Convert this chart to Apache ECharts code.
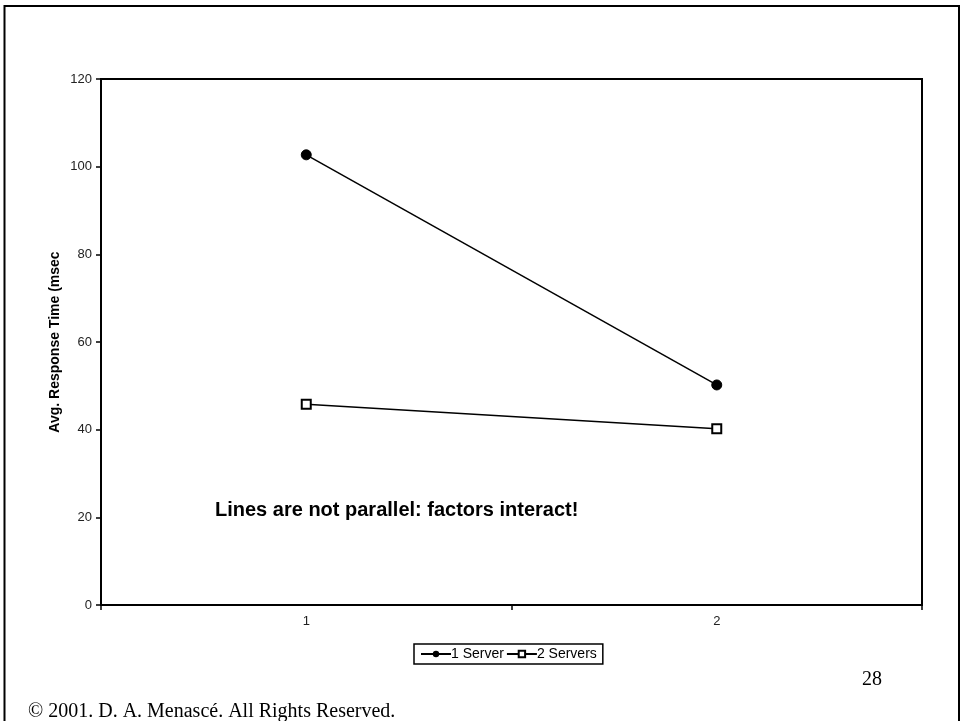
<!DOCTYPE html>
<html><head><meta charset="utf-8">
<script src="https://cdn.jsdelivr.net/npm/echarts@6/dist/echarts.min.js"></script>
<style>html,body{margin:0;padding:0;background:#fff}#c{width:963px;height:721px}</style>
</head><body><div id="c"></div>
<script>
const categories = ['1', '2'];
const oneServer = [102.7, 50.2];
const twoServers = [45.8, 40.2];
const yTicks = [0, 20, 40, 60, 80, 100, 120];

const chart = echarts.init(document.getElementById('c'), null, {renderer: 'canvas'});
chart.setOption({
  animation: false,
  backgroundColor: '#fff',
  grid: {left: 101, top: 79, width: 821, height: 526, show: true, borderColor: '#000', borderWidth: 2, backgroundColor: 'transparent'},
  xAxis: {
    type: 'category', data: categories, boundaryGap: true,
    axisLine: {lineStyle: {color: '#000', width: 2}},
    axisTick: {show: true, length: 5, lineStyle: {color: '#000', width: 1.5}},
    axisLabel: {color: '#222', fontFamily: 'Liberation Sans', fontSize: 13, margin: 10}
  },
  yAxis: {
    type: 'value', min: yTicks[0], max: yTicks[yTicks.length - 1], interval: 20,
    name: 'Avg. Response Time (msec', nameLocation: 'middle', nameGap: 39, nameMoveOverlap: false,
    nameTextStyle: {color: '#000', fontFamily: 'Liberation Sans', fontSize: 14, fontWeight: 'bold'},
    axisLine: {show: true, lineStyle: {color: '#000', width: 2}},
    axisTick: {show: true, length: 5, lineStyle: {color: '#000', width: 1.5}},
    axisLabel: {color: '#222', fontFamily: 'Liberation Sans', fontSize: 13, margin: 9},
    splitLine: {show: false}
  },
  legend: {
    left: 414, top: 644, itemGap: 2, itemWidth: 30, itemHeight: 8,
    borderColor: '#000', borderWidth: 1.5, padding: [3, 6, 3, 6],
    textStyle: {color: '#000', fontFamily: 'Liberation Sans', fontSize: 14, padding: [0, 0, 0, -5]},
    data: ['1 Server', '2 Servers']
  },
  series: [
    {name: '1 Server', type: 'line', data: oneServer, symbol: 'circle', symbolSize: 10,
     lineStyle: {color: '#000', width: 1.5}, itemStyle: {color: '#000', borderColor: '#000'}},
    {name: '2 Servers', type: 'line', data: twoServers, symbol: 'rect', symbolSize: 9,
     lineStyle: {color: '#000', width: 1.5}, itemStyle: {color: '#fff', borderColor: '#000', borderWidth: 2}}
  ],
  graphic: [
    {type: 'polyline', shape: {points: [[4.5, 721], [4.5, 6], [959, 6], [959, 721]]}, style: {stroke: '#000', lineWidth: 2, fill: null}},
    {type: 'text', left: 215, top: 500, style: {text: 'Lines are not parallel: factors interact!', fill: '#000', font: 'bold 20px "Liberation Sans"'}},
    {type: 'text', left: 862, top: 670, style: {text: '28', fill: '#000', font: '20px "Liberation Serif"'}},
    {type: 'text', left: 28, top: 702, style: {text: '© 2001. D. A. Menascé. All Rights Reserved.', fill: '#000', font: '20px "Liberation Serif"'}}
  ]
});
</script></body></html>
